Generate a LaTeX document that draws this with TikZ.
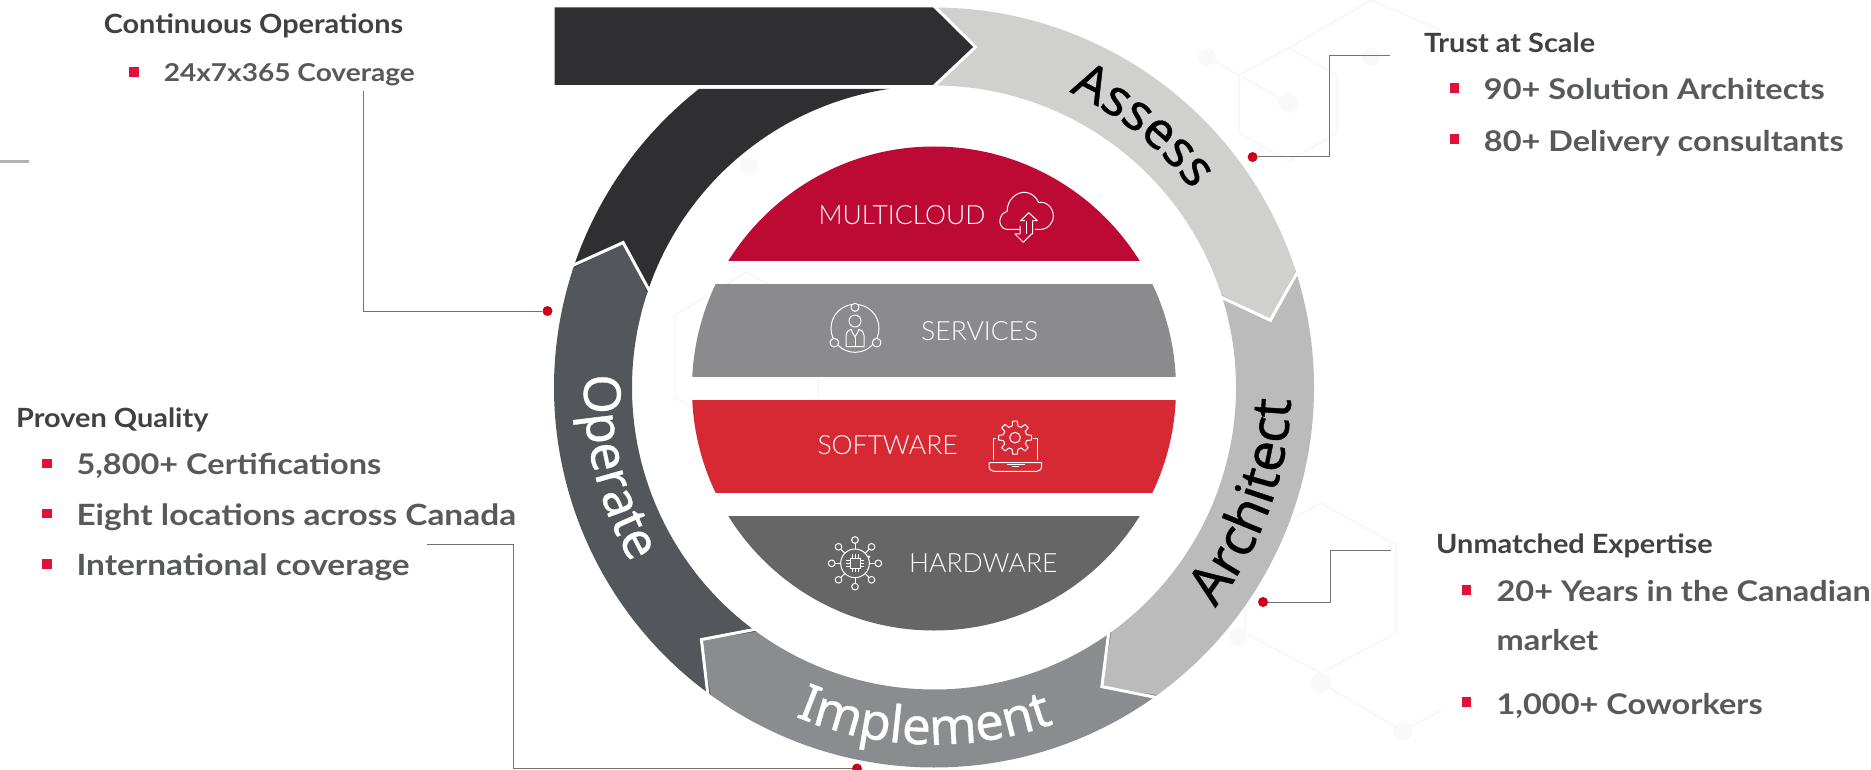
\documentclass[tikz,border=0pt]{standalone}
\usepackage{fontspec}
\usetikzlibrary{decorations.text,calc}
\setmainfont{Lato}
\newfontfamily\ringfont[FakeBold=0.7]{Noto Sans}
\newfontfamily\bandfont{Lato Light}
\newfontfamily\sidebul[FakeStretch=1.14]{Lato}
\newfontfamily\sidetitle[FakeStretch=1.09]{Lato}
\definecolor{cAssess}{HTML}{D0D0CE}
\definecolor{cArch}{HTML}{BBBBBB}
\definecolor{cImpl}{HTML}{8B8C90}
\definecolor{cOper}{HTML}{53565A}
\definecolor{cDark}{HTML}{2F2F31}
\definecolor{cMulti}{HTML}{BC0A35}
\definecolor{cServ}{HTML}{8B8B8D}
\definecolor{cSoft}{HTML}{D62934}
\definecolor{cHard}{HTML}{666666}
\definecolor{cTitle}{HTML}{414141}
\definecolor{cBul}{HTML}{58595B}
\definecolor{cRed}{HTML}{E4103A}
\definecolor{cDot}{HTML}{CC0018}
\definecolor{cHex}{HTML}{F9F9F9}
\tikzset{
 titletext/.style={anchor=base west,inner sep=0pt,text=cTitle,font=\sidetitle\bfseries\fontsize{26.5}{27}\selectfont},
 bultext/.style={anchor=base west,inner sep=0pt,text=cBul,font=\sidebul\bfseries\fontsize{28.5}{29}\selectfont},
 bulwide/.style={bultext,font=\sidebul\bfseries\fontsize{29.3}{30}\selectfont},
 bulsmall/.style={bultext,font=\sidebul\bfseries\fontsize{24.6}{25}\selectfont},
 bandtext/.style={anchor=base west,inner sep=0pt,text=white,font=\bandfont\fontsize{26.5}{26.5}\selectfont},
 reddot/.style={circle,fill=cDot,minimum size=10pt,inner sep=0pt},
 conn/.style={draw=black!55,line width=1pt},
 icon/.style={draw=white,line width=1pt,line join=round},
 hexline/.style={draw=cHex,line width=2.5pt},
}
\newcommand\ringseg[3]{%
 \fill[#1] (#2:380) arc[start angle=#2,end angle=#3,radius=380] -- ({#3-6.7}:343) -- (#3:302) arc[start angle=#3,end angle=#2,radius=302] -- cycle;
 \draw[white,line width=3pt,line join=miter] (#3:384) -- ({#3-6.7}:343) -- (#3:298);
}
\newcommand\ringtext[6]{%
 \path[decorate,decoration={text along path,text align=center,text={|\color{#4}\ringfont\fontsize{#6}{#6}\selectfont|#5}}]
   (#1:#3) arc[start angle=#1,end angle=#2,radius=#3];
}
\newcommand\bulletsq[2]{\fill[cRed] (#1,#2) rectangle ++(9.6,-9.6);}
\begin{document}
\begin{tikzpicture}[x=1pt,y=1pt]
\useasboundingbox (0,0) rectangle (1871,-770);
% faint background pattern
\draw[hexline] (1288.6,-48)--(1337,-75)--(1337,-133)--(1288.6,-161)--(1239,-133)--(1239,-75)--cycle;
\draw[hexline] (1321,-503)--(1396,-545)--(1396,-633)--(1321,-673)--(1245,-633)--(1245,-545)--cycle;
\draw[hexline] (747,-272)--(818,-315)--(818,-398)--(747,-437)--(675,-398)--(675,-315)--cycle;
\draw[hexline] (1321,-683)--(1403,-731)--(1441,-710);
\draw[hexline] (1207,-57)--(1288.6,-103);
\draw[hexline] (1288.6,-48)--(1371,-0)--(1440,-30);
\fill[cHex] (1288.6,-103) circle[radius=10] (1207,-57) circle[radius=9] (1371,-57) circle[radius=9] (1321,-683) circle[radius=10] (1403,-731) circle[radius=10] (1238,-637) circle[radius=9] (749,-166) circle[radius=9];
% ring
\begin{scope}[shift={(934,-387.5)}]
 \fill[cDark] (128.2:380) arc[start angle=128.2,end angle=162,radius=380] -- (162:302) arc[start angle=162,end angle=98.4,radius=302] -- cycle;
 \ringseg{cOper}{234}{161.7}
 \ringseg{cImpl}{306}{234}
 \ringseg{cArch}{18}{-54}
 \ringseg{cAssess}{90}{18}
\end{scope}
\fill[cDark] (554.5,-7.4) -- (934.6,-7.4) -- (974,-47) -- (934.6,-85) -- (554.5,-85) -- cycle;
\draw[white,line width=3pt,line join=miter] (932,-4) -- (975.5,-47) -- (932,-88);
% ring labels
\begin{scope}[shift={(934,-387.5)}]
 \ringtext{69.4}{33.4}{325}{black}{Assess}{51}
 \ringtext{-42}{2}{357}{black}{Architect}{54}
 \ringtext{244.4}{292.4}{357}{white}{Implement}{51}
 \ringtext{174}{214}{350}{white}{Operate}{51}
\end{scope}
% bands
\begin{scope}
 \clip (934,-388.5) circle[radius=242];
 \fill[cMulti] (680,-140) rectangle (1190,-261.3);
 \fill[cServ] (680,-284.4) rectangle (1190,-376.7);
 \fill[cSoft] (680,-400.3) rectangle (1190,-492.6);
 \fill[cHard] (680,-516.2) rectangle (1190,-640);
\end{scope}
\node[bandtext] (lmulti) at (818.3,-225) {MULTICLOUD};
\node[bandtext] (lserv) at (921,-340) {SERVICES};
\node[bandtext] (lsoft) at (817.3,-454.3) {SOFTWARE};
\node[bandtext] (lhard) at (909,-572.3) {HARDWARE};
% cloud icon
\begin{scope}[shift={(990,-180)},x=0.3333pt,y=-0.3333pt]
 \draw[icon] (92,148) -- (50,148) .. controls (35,148) and (27,130) .. (30,118) .. controls (33,103) and (42,97) .. (52,93) .. controls (50,60) and (80,35) .. (105,37) .. controls (125,38) and (140,52) .. (146,68) .. controls (170,62) and (190,85) .. (190,108) .. controls (190,130) and (172,148) .. (155,148) -- (135,148);
 \draw[icon] (105,122) -- (92,122) -- (116,98) -- (142,122) -- (128,122) -- (128,162) -- (125,162) -- (100,187) -- (75,162) -- (90,162) -- (90,138);
 \draw[icon] (108,122) -- (108,162);
\end{scope}
% person icon
\begin{scope}[shift={(820,-295)},x=0.3333pt,y=-0.3333pt]
 \draw[icon] (105,100) circle[radius=72];
 \draw[icon,fill=cServ] (105,37) circle[radius=12] (43,143) circle[radius=13] (170,143) circle[radius=13];
 \draw[icon] (105,78) circle[radius=18];
 \draw[icon] (78,155) -- (78,122) .. controls (80,108) and (88,104) .. (93,103) .. controls (96,112) and (100,118) .. (105,125) .. controls (110,118) and (114,112) .. (117,103) .. controls (122,104) and (130,108) .. (132,122) -- (132,155) -- cycle;
 \draw[icon] (105,125) -- (105,155);
\end{scope}
% software icon
\begin{scope}[shift={(980,-410)},x=0.3333pt,y=-0.3333pt]
 \draw[icon] (48,85) -- (40,85) -- (40,150) (160,85) -- (172,85) -- (172,150);
 \draw[icon] (28,158) -- (185,158) -- (185,168) .. controls (185,178) and (178,184) .. (170,184) -- (42,184) .. controls (34,184) and (27,178) .. (27,168) -- cycle;
 \draw[icon] (80,163) -- (135,163) (97,170) -- (117,170);
 \begin{scope}[shift={(105,83)}]
  \draw[icon,fill=cSoft] \foreach \a in {0,45,...,315} {(\a-14:36) -- (\a-8:50) -- (\a+8:50) -- (\a+14:36) -- (\a+31:36)};
  \draw[icon] (0,0) circle[radius=16];
 \end{scope}
\end{scope}
% chip icon
\begin{scope}[shift={(820,-530)},x=0.3333pt,y=-0.3333pt]
 \begin{scope}[shift={(105,100)}]
  \draw[icon] (0,0) circle[radius=43];
  \foreach \a in {0,45,...,315} {\draw[icon] (\a:43) -- (\a:60); \draw[icon] (\a:70) circle[radius=10];}
  \draw[icon] (-15,-15) rectangle (15,15);
  \foreach \s in {-9,0,9} {\draw[icon] (\s,-15)--(\s,-27) (\s,15)--(\s,27) (-15,\s)--(-27,\s) (15,\s)--(27,\s);}
  \fill[white] (42,-20) circle[radius=4];
 \end{scope}
\end{scope}
% side texts
\node[titletext] (t1) at (103.6,-34) {Continuous Operations};
\node[bulsmall] (b11) at (163.6,-82) {24x7x365 Coverage};
\bulletsq{129.3}{-67}
\node[titletext] (t2) at (1423.8,-52.4) {Trust at Scale};
\node[bultext] (b21) at (1483.7,-100) {90+ Solution Architects};
\node[bultext] (b22) at (1483.7,-151.4) {80+ Delivery consultants};
\bulletsq{1449.5}{-83}
\bulletsq{1449.5}{-134.3}
\node[titletext] (t3) at (16,-427.4) {Proven Quality};
\node[bultext] (b31) at (76.3,-474.7) {5,800+ Certifications};
\node[bulwide] (b32) at (76.3,-525) {Eight locations across Canada};
\node[bulwide] (b33) at (76.3,-575.7) {International coverage};
\bulletsq{42}{-458.7}
\bulletsq{42}{-508.7}
\bulletsq{42}{-559}
\node[titletext] (t4) at (1436,-553.7) {Unmatched Expertise};
\node[bultext] (b41) at (1496.4,-601.4) {20+ Years in the Canadian};
\node[bultext] (b42) at (1496.4,-650) {market};
\node[bultext] (b43) at (1496.4,-714) {1,000+ Coworkers};
\bulletsq{1461.8}{-585.3}
\bulletsq{1461.8}{-697.3}
% connectors
\node[reddot] (d1) at (547.5,-311) {};
\coordinate (e1) at (363.6,-91);
\draw[conn] (e1) |- (d1);
\node[reddot] (d2) at (1252.6,-157) {};
\coordinate (e2a) at (1329,-55.7);
\coordinate (e2b) at (1389.6,-55.7);
\draw[conn] (d2) -| (e2a) -- (e2b);
\node[reddot] (d3) at (857,-768.5) {};
\coordinate (e3a) at (513,-544.3);
\coordinate (e3b) at (427,-544.3);
\draw[conn] (d3) -| (e3a) -- (e3b);
\node[reddot] (d4) at (1263,-602) {};
\coordinate (e4a) at (1330,-550);
\coordinate (e4b) at (1391,-550);
\draw[conn] (d4) -| (e4a) -- (e4b);
% left stub
\draw[draw=black!30,line width=3pt] (0,-162) -- (28.5,-162);
\end{tikzpicture}
\end{document}
